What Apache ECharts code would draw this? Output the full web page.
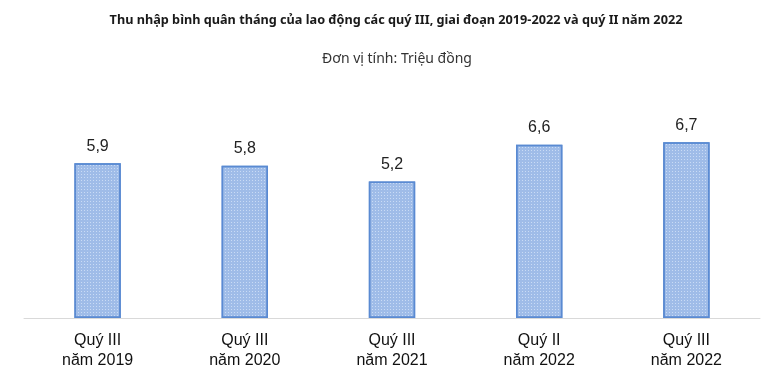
<!DOCTYPE html>
<html><head><meta charset="utf-8">
<script src="https://cdn.jsdelivr.net/npm/echarts@6/dist/echarts.min.js"></script>
<style>html,body{margin:0;padding:0;background:#fff}#c{width:768px;height:389px}</style>
</head><body><div id="c"></div>
<script>
const categories = ['Quý III\nnăm 2019','Quý III\nnăm 2020','Quý III\nnăm 2021','Quý II\nnăm 2022','Quý III\nnăm 2022'];
const values = [5.9, 5.8, 5.2, 6.6, 6.7];
const titleText = 'Thu nhập bình quân tháng của lao động các quý III, giai đoạn 2019-2022 và quý II năm 2022';
const subtitleText = 'Đơn vị tính: Triệu đồng';

const chart = echarts.init(document.getElementById('c'));
chart.setOption({
  animation:false,
  title:[
    {text:titleText,left:391,textAlign:'center',top:9,textStyle:{fontFamily:'Noto Sans',fontSize:12.7,fontWeight:'bold',color:'#1a1a1a'}},
    {text:subtitleText,left:392,textAlign:'center',top:47,textStyle:{fontFamily:'Noto Sans',fontSize:14,fontWeight:'normal',color:'#333'}}
  ],
  grid:{left:24,right:8,top:108,bottom:71},
  xAxis:{type:'category',data:categories,
    axisLine:{lineStyle:{color:'#d9d9d9'}},axisTick:{show:false},
    axisLabel:{fontFamily:'Liberation Sans',fontSize:16,color:'#111',lineHeight:20,margin:13}},
  yAxis:{type:'value',min:0,max:8,show:false,splitLine:{show:false}},
  series:[{type:'bar',data:values,barWidth:'31.5%',
    itemStyle:{color:'#9fbce8',borderColor:'#5a8ad2',borderWidth:1.5,
      decal:{symbol:'rect',symbolSize:1,dashArrayX:[1,2],dashArrayY:[1,2],color:'#c9dbf5'}},
    label:{show:true,position:'top',distance:9,fontFamily:'Liberation Sans',fontSize:16,color:'#222',
      formatter:p=>String(p.value).replace('.',',')}}]
});
</script></body></html>
